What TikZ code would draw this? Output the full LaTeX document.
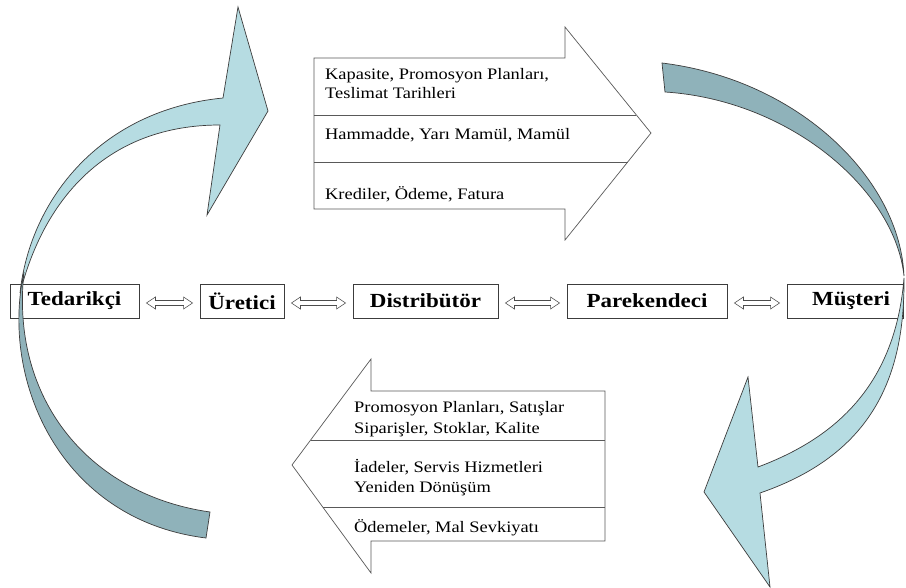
\documentclass[tikz,border=0pt]{standalone}
\usepackage{fontspec}
\setmainfont{Liberation Serif}[FakeStretch=1.15]
\usetikzlibrary{calc}
\definecolor{lightarr}{RGB}{182,220,226}
\definecolor{darkarr}{RGB}{143,178,186}
\definecolor{edgegrey}{RGB}{60,60,60}
\begin{document}
\begin{tikzpicture}[x=1pt,y=-1pt,
  box/.style={draw=edgegrey, line width=0.9pt, fill=white, minimum height=34pt, inner sep=0pt,
    font=\fontsize{20}{24}\selectfont\bfseries},
  blockarr/.style={draw=black!65, line width=0.7pt, fill=white},
  divider/.style={draw=black!65, line width=0.7pt},
  curvelight/.style={fill=lightarr, draw=edgegrey, line width=0.7pt},
  curvedark/.style={fill=darkarr, draw=edgegrey, line width=0.7pt},
  lbl/.style={anchor=base west, inner sep=0pt, font=\fontsize{16}{19}\selectfont},
  dblarr/.style={draw=black!70, line width=0.6pt, fill=white,
    to path={let \p1=($(\tikztostart.east)+(7pt,-2pt)$), \p2=($(\tikztotarget.west)+(-7pt,-2pt)$) in
      (\x1,\y1) -- (\x1+9pt,\y1+6pt) -- (\x1+9pt,\y1+2.5pt) -- (\x2-9pt,\y1+2.5pt) -- (\x2-9pt,\y1+6pt)
      -- (\x2,\y1) -- (\x2-9pt,\y1-6pt) -- (\x2-9pt,\y1-2.5pt) -- (\x1+9pt,\y1-2.5pt) -- (\x1+9pt,\y1-6pt) -- cycle}}
]
\fill[white] (0,0) rectangle (906,588);
\useasboundingbox (0,0) rectangle (906,588);

% top block arrow
\path[blockarr] (314,58) -- (565,58) -- (565,27) -- (651,133) -- (565,240) -- (565,209) -- (314,209) -- cycle;
\path[divider] (314,115) -- (636.4,115);
\path[divider] (314,162) -- (627.7,162);
\node[lbl] (t1) at (325,80) {Kapasite, Promosyon Planları,};
\node[lbl] (t2) at (325,99) {Teslimat Tarihleri};
\node[lbl] (t3) at (325,140) {Hammadde, Yarı Mamül, Mamül};
\node[lbl] (t4) at (325,200) {Krediler, Ödeme, Fatura};

% bottom block arrow
\path[blockarr] (292,465) -- (371,359) -- (371,391) -- (605,391) -- (605,541) -- (371,541) -- (371,573) -- cycle;
\path[divider] (310.6,440) -- (605,440);
\path[divider] (322.7,507) -- (605,507);
\node[lbl] (b1) at (354,413) {Promosyon Planları, Satışlar};
\node[lbl] (b2) at (354,433) {Siparişler, Stoklar, Kalite};
\node[lbl] (b3) at (354,472) {İadeler, Servis Hizmetleri};
\node[lbl] (b4) at (354,492) {Yeniden Dönüşüm};
\node[lbl] (b5) at (354,532) {Ödemeler, Mal Sevkiyatı};

% chain nodes
\node[box, minimum width=129pt] (ted) at (74.5,301) {Tedarikçi};
\node[box, minimum width=84pt] (ure) at (242,301) {Üretici};
\node[box, minimum width=145pt] (dis) at (425.5,301) {Distribütör};
\node[box, minimum width=160pt] (par) at (647,301) {Parekendeci};
\node[box, minimum width=116pt] (mus) at (845,301) {\hspace*{12pt}Müşteri};

\draw[dblarr] (ted) to (ure);
\draw[dblarr] (ure) to (dis);
\draw[dblarr] (dis) to (par);
\draw[dblarr] (par) to (mus);

% curved arrows
\path[curvelight] (20,293) .. controls (30,200) and (100,110) .. (223,98) -- (238,7) -- (268,111) -- (207,215) -- (220,125) .. controls (110,125) and (45,195) .. (20,293) -- cycle;
\path[curvedark] (24,272) .. controls (0,380) and (60,520) .. (206,538) -- (210,512) .. controls (90,495) and (10,400) .. (24,272) -- cycle;
\path[curvedark] (662,63) .. controls (800,80) and (900,180) .. (904,276) .. controls (895,190) and (790,100) .. (665,92) -- cycle;
\path[curvelight] (904,278) .. controls (905,380) and (870,455) .. (760,493) -- (770,587) -- (704,492) -- (748,377) -- (758,467) .. controls (830,440) and (895,390) .. (904,278) -- cycle;
\end{tikzpicture}
\end{document}
